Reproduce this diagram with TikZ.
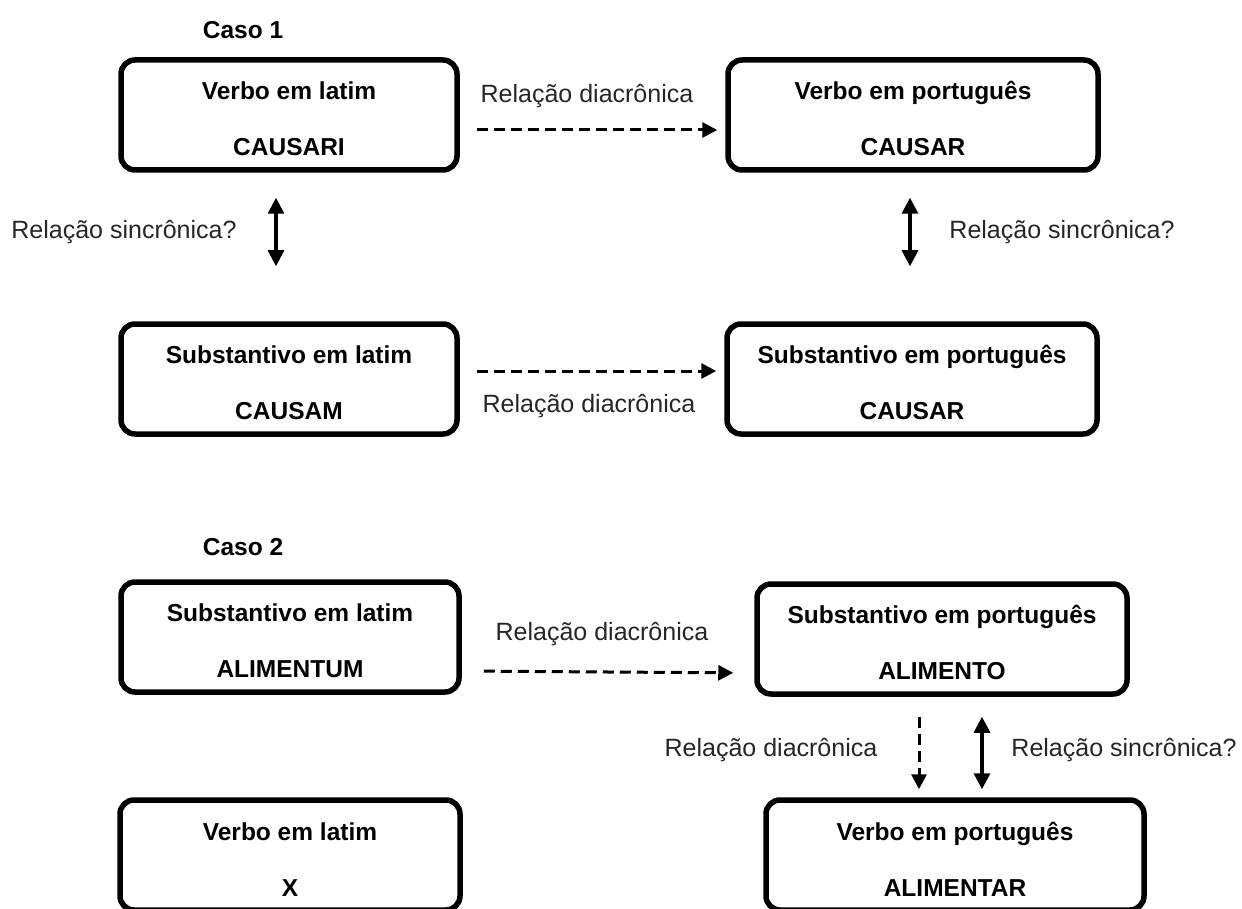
\documentclass[tikz,border=0pt]{standalone}
\usepackage{fontspec}
\setmainfont{Liberation Sans}
\usetikzlibrary{arrows.meta}
\newcommand{\bx}[2]{\rule{0pt}{26pt}#1\\#2}
\begin{document}
\begin{tikzpicture}[x=1pt, y=-1pt,
    box/.style={draw, line width=5.5pt, rounded corners=14pt, minimum height=110pt,
      align=center, inner sep=0pt, font=\fontsize{24.5}{56}\selectfont\bfseries},
    lbl/.style={inner sep=0pt, text=black!85, font=\fontsize{25}{30}\selectfont},
    caso/.style={inner sep=0pt, font=\fontsize{24.5}{29}\selectfont\bfseries},
    diac/.style={line width=3pt, dash pattern=on 11pt off 6pt, -{Triangle[length=15pt, width=15pt]}},
    sync/.style={line width=3.3pt, {Triangle[length=16pt, width=16pt]}-{Triangle[length=16pt, width=16pt]}}]
  \useasboundingbox (0,0) rectangle (1242,909);
  \clip (0,0) rectangle (1242,909);

  % Caso 1
  \node[caso] (caso1) at (243,30) {Caso 1};
  \node[box, minimum width=336pt] (vlat) at (289,115) {\bx{Verbo em latim}{CAUSARI}};
  \node[box, minimum width=370pt] (vpor) at (913,115) {\bx{Verbo em português}{CAUSAR}};
  \node[box, minimum width=336pt] (slat) at (289,379) {\bx{Substantivo em latim}{CAUSAM}};
  \node[box, minimum width=370pt] (spor) at (912,379) {\bx{Substantivo em português}{CAUSAR}};

  \draw[diac, shorten <=17pt, shorten >=8pt] ([yshift=-15pt]vlat.east) -- ([yshift=-15pt]vpor.west);
  \draw[diac, shorten <=17pt, shorten >=8pt] ([yshift=8pt]slat.east) -- ([yshift=8pt]spor.west);
  \draw[sync, shorten <=25pt, shorten >=55pt] ([xshift=-13pt]vlat.south) -- ([xshift=-13pt]slat.north);
  \draw[sync, shorten <=25pt, shorten >=55pt] ([xshift=-3pt]vpor.south) -- ([xshift=-2pt]spor.north);

  \node[lbl] (d1) at (587,96) {Relação diacrônica};
  \node[lbl] (d2) at (589,406) {Relação diacrônica};
  \node[lbl] (s1) at (124,232) {Relação sincrônica?};
  \node[lbl] (s2) at (1062,232) {Relação sincrônica?};

  % Caso 2
  \node[caso] (caso2) at (243,547) {Caso 2};
  \node[box, minimum width=338pt] (slat2) at (290,637) {\bx{Substantivo em latim}{ALIMENTUM}};
  \node[box, minimum width=370pt] (spor2) at (942,639) {\bx{Substantivo em português}{ALIMENTO}};
  \node[box, minimum width=340pt] (vlat2) at (290,855) {\bx{Verbo em latim}{X}};
  \node[box, minimum width=378pt] (vpor2) at (955,855) {\bx{Verbo em português}{ALIMENTAR}};

  \draw[diac, shorten <=22pt, shorten >=21pt] ([yshift=-34pt]slat2.east) -- ([yshift=-34pt]spor2.west);
  \coordinate (dtop) at ([xshift=-23pt]spor2.south);
  \coordinate (stop) at ([xshift=40pt]spor2.south);
  \draw[diac, shorten <=20pt, shorten >=8pt] (dtop) -- (dtop |- vpor2.north);
  \draw[sync, shorten <=20pt, shorten >=8pt] (stop) -- (stop |- vpor2.north);

  \node[lbl] (d3) at (602,634) {Relação diacrônica};
  \node[lbl] (d4) at (771,750) {Relação diacrônica};
  \node[lbl] (s3) at (1124,750) {Relação sincrônica?};
\end{tikzpicture}
\end{document}
